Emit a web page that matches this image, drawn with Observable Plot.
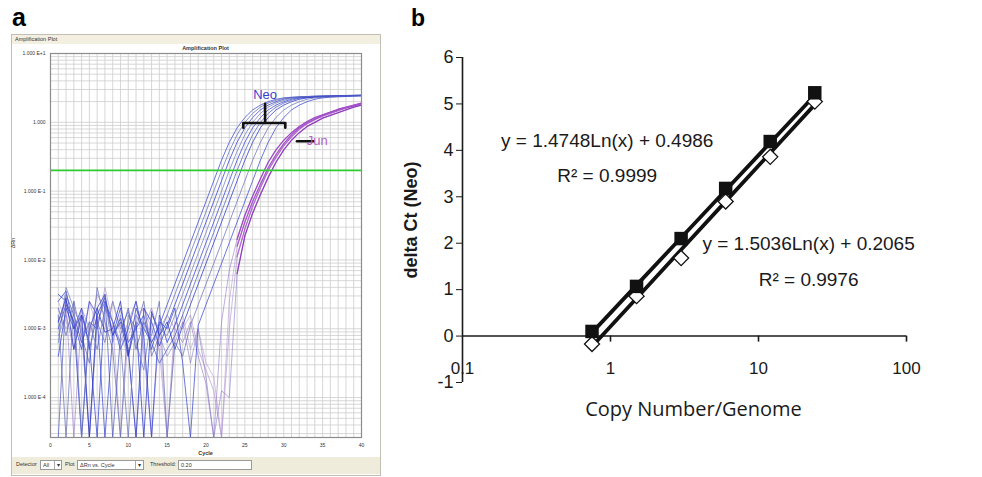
<!DOCTYPE html>
<html><head><meta charset="utf-8">
<script src="https://cdn.jsdelivr.net/npm/d3@7"></script>
<script src="https://cdn.jsdelivr.net/npm/@observablehq/plot@0.6"></script>
<style>
body{margin:0;background:#fff;width:982px;height:477px;position:relative;overflow:hidden;font-family:"Liberation Sans",Arial,sans-serif}
.abs{position:absolute}
.tiny{font-size:5.5px;color:#333;white-space:nowrap}
.box{position:absolute;border:1px solid #9a9a9a;background:#fff;height:8px;top:460px;font-size:5.5px;line-height:8px;padding-left:2px;color:#333;white-space:nowrap}
</style></head><body>
<div class="abs" style="left:12px;top:3px;font:bold 25px 'Liberation Sans'">a</div>
<div class="abs" style="left:411px;top:5px;font:bold 23px 'Liberation Sans'">b</div>
<div class="abs" style="left:11px;top:34px;width:368px;height:440px;border:1px solid #c2beb2;background:#fff"></div>
<div class="abs tiny" style="left:12px;top:35px;width:368px;height:9px;background:#f3f0e2;line-height:9px;padding-left:3px;box-sizing:border-box">Amplification Plot</div>
<div class="abs tiny" style="left:50px;top:45px;width:311px;text-align:center;font-weight:bold">Amplification Plot</div>
<div class="abs tiny" style="left:8px;top:240px;transform:rotate(-90deg)">ΔRn</div>
<div class="abs tiny" style="left:50px;top:450px;width:311px;text-align:center;font-weight:bold">Cycle</div>
<div class="abs" style="left:12px;top:457px;width:368px;height:17px;background:#efecdc"></div>
<div class="abs tiny" style="left:16px;top:461px">Detector</div>
<div class="box" style="left:40px;width:18px">All<span style="position:absolute;right:0;top:0;width:6px;border-left:1px solid #aaa;text-align:center">▾</span></div>
<div class="abs tiny" style="left:65px;top:461px">Plot</div>
<div class="box" style="left:77px;width:63px">ΔRn vs. Cycle<span style="position:absolute;right:0;top:0;width:7px;border-left:1px solid #aaa;text-align:center">▾</span></div>
<div class="abs tiny" style="left:150px;top:461px">Threshold:</div>
<div class="box" style="left:178px;width:70px">0.20</div>
<div id="plotA" class="abs" style="left:0;top:0"></div>
<div id="plotB" class="abs" style="left:400px;top:0"></div>
<script>
// ---------- Panel a: amplification curves (log10 ΔRn per cycle 1..40) ----------
const cyclesTicks = [0, 5, 10, 15, 20, 25, 30, 35, 40];
const yTickValuesA = [10, 1, 0.1, 0.01, 0.001, 0.0001];
const yTickLabelsA = ["1.000 E+1", "1.000", "1.000 E-1", "1.000 E-2", "1.000 E-3", "1.000 E-4"];
const threshold = [0.20];

const neo1 = [-2.6,-2.45,-3.0,-2.7,-3.3,-2.8,-2.55,-3.1,-2.9,-3.4,-2.7,-3.0,-3.2,
  -2.95,-2.65,-2.35,-2.05,-1.75,-1.45,-1.15,-0.85,-0.55,-0.29,-0.08,0.07,0.18,0.25,0.30,0.335,0.355,0.365,0.37,0.375,0.38,0.383,0.386,0.388,0.39,0.392,0.395];
const neo2 = [-2.8,-6,-2.6,-3.1,-3.5,-2.4,-2.9,-3.3,-6,-2.8,-3.0,-2.6,-3.4,
  -3.1,-2.8,-2.5,-2.2,-1.9,-1.6,-1.3,-1.0,-0.7,-0.42,-0.18,0.0,0.13,0.22,0.28,0.32,0.35,0.36,0.37,0.375,0.38,0.383,0.386,0.388,0.39,0.392,0.395];
const neo3 = [-2.5,-2.6,-2.9,-6,-3.0,-2.7,-2.5,-3.1,-2.85,-3.3,-6,-2.7,-2.9,-3.25,
  -2.95,-2.65,-2.35,-2.05,-1.75,-1.45,-1.15,-0.85,-0.55,-0.29,-0.08,0.07,0.18,0.25,0.30,0.335,0.355,0.365,0.37,0.375,0.38,0.383,0.386,0.388,0.39,0.392];
const neo4 = [-3.2,-2.4,-2.7,-3.0,-6,-2.9,-3.2,-2.6,-3.0,-2.75,-3.2,-3.6,-2.8,-3.0,
  -3.1,-2.8,-2.5,-2.2,-1.9,-1.6,-1.3,-1.0,-0.7,-0.42,-0.18,0.0,0.13,0.22,0.28,0.32,0.35,0.36,0.37,0.375,0.38,0.383,0.386,0.388,0.39,0.392];
const neo5 = [-3.4,-2.7,-3.0,-2.8,-3.2,-6,-2.6,-2.9,-3.3,-3.0,-2.6,-3.1,-6,-2.8,-3.2,
  -2.95,-2.65,-2.35,-2.05,-1.75,-1.45,-1.15,-0.85,-0.55,-0.29,-0.08,0.07,0.18,0.25,0.30,0.335,0.355,0.365,0.37,0.375,0.38,0.383,0.386,0.388,0.39];
const neo6 = [-6,-2.5,-2.8,-3.2,-2.9,-3.0,-2.5,-6,-3.1,-2.7,-3.3,-2.9,-3.2,-3.5,-3.3,
  -3.1,-2.8,-2.5,-2.2,-1.9,-1.6,-1.3,-1.0,-0.7,-0.42,-0.18,0.0,0.13,0.22,0.28,0.32,0.35,0.36,0.37,0.375,0.38,0.383,0.386,0.388,0.39];
const neo7 = [-2.9,-2.55,-3.3,-2.8,-6,-2.7,-3.05,-3.0,-2.6,-3.4,-2.9,-6,-2.75,-3.1,-2.9,-3.3,
  -2.95,-2.65,-2.35,-2.05,-1.75,-1.45,-1.15,-0.85,-0.55,-0.29,-0.08,0.07,0.18,0.25,0.30,0.335,0.355,0.365,0.37,0.375,0.38,0.383,0.386,0.388];
const neo8 = [-2.7,-3.1,-2.6,-6,-2.9,-3.3,-2.7,-2.9,-3.2,-6,-2.8,-3.0,-3.1,-2.6,-6,-3.2,-3.4,
  -2.95,-2.65,-2.35,-2.05,-1.75,-1.45,-1.15,-0.85,-0.55,-0.29,-0.08,0.07,0.18,0.25,0.30,0.335,0.355,0.365,0.37,0.375,0.38,0.383,0.386];
const neo9 = [-3.0,-2.65,-2.9,-3.3,-2.6,-2.8,-6,-3.1,-2.7,-3.2,-3.0,-2.8,-3.3,-2.9,-3.0,-2.7,-3.5,-6,
  -2.95,-2.65,-2.35,-2.05,-1.75,-1.45,-1.15,-0.85,-0.55,-0.29,-0.08,0.07,0.18,0.25,0.30,0.335,0.355,0.365,0.37,0.375,0.38,0.383];
const jun1 = [-2.9,-2.6,-6,-2.8,-3.1,-2.5,-2.7,-3.0,-3.2,-2.9,-2.6,-3.3,-6,-3.0,-2.8,-3.0,-3.2,-2.9,-3.4,-3.8,-6,
  -2.9,-2.15,-1.7,-1.35,-1.07,-0.82,-0.58,-0.4,-0.26,-0.15,-0.06,0.01,0.07,0.11,0.15,0.19,0.22,0.25,0.28];
const jun2 = [-2.7,-3.0,-2.8,-3.2,-2.6,-3.0,-2.4,-2.9,-6,-3.1,-2.8,-2.7,-3.0,-3.3,-6,-2.9,-3.0,-2.8,-3.3,-3.6,-3.9,-6,
  -3.0,-1.95,-1.55,-1.22,-0.95,-0.7,-0.51,-0.34,-0.21,-0.1,-0.02,0.04,0.09,0.13,0.17,0.21,0.24,0.27];
const jun3 = [-3.1,-2.8,-3.3,-2.7,-3.0,-2.9,-2.6,-3.2,-2.8,-3.3,-6,-3.0,-2.7,-3.1,-3.4,-3.2,-2.9,-3.5,-3.0,-3.7,-6,-3.9,
  -4.0,-2.2,-1.65,-1.32,-1.05,-0.8,-0.58,-0.4,-0.26,-0.15,-0.06,0.0,0.06,0.1,0.14,0.18,0.22,0.25];
const jun4 = [-2.6,-2.9,-3.1,-2.7,-6,-2.8,-3.0,-2.6,-3.1,-3.4,-2.9,-2.7,-3.2,-3.0,-6,-3.1,-2.8,-3.3,-3.0,-3.5,-3.7,
  -6,-2.6,-1.8,-1.45,-1.15,-0.9,-0.66,-0.47,-0.31,-0.18,-0.08,-0.01,0.05,0.1,0.14,0.18,0.21,0.24,0.27];

const neoCurves = [neo1, neo2, neo3, neo4, neo5, neo6, neo7, neo8, neo9];
const junCurves = [jun1, jun2, jun3, jun4];
const neoColors = ["#3a4ad0", "#6a72b4", "#2f3fcf", "#7a80b8", "#3646d8", "#5560c0", "#2a36c8", "#6d76bc", "#3f4cd2"];
const junColors = ["#9a3ec4", "#b066cc", "#8e30bd", "#a24ec8"];
const junNoiseColors = ["#8c6cc0", "#a484c8", "#7f70c4", "#b090cc"];

// annotation anchors (cycle, log10 ΔRn)
const bracketNeo = [[24.8,-0.08],[24.8,-0.01],[30.2,-0.01],[30.2,-0.08]];
const bracketStem = [[27.6,-0.01],[27.6,0.27]];
const junDash = [[31.7,-0.275],[33.8,-0.275]];
const annLabels = [{c:27.6, v:0.40, t:"Neo", color:"#3a3fd0", anchor:"middle"}, {c:34.3, v:-0.27, t:"Jun", color:"#b163c4", anchor:"start"}];

function toRows(curves, colors, group) {
  return curves.flatMap((arr, k) => arr.map((v, i) => ({cycle: i + 1, dRn: Math.pow(10, v), id: group + k, color: colors[k]})));
}
const neoRows = toRows(neoCurves, neoColors, "neo");
const junRows = toRows(junCurves, junColors, "jun");
const junNoiseRows = toRows(junCurves, junNoiseColors, "jn");
const gridYA = d3.range(-5, 1).flatMap(e => d3.range(1, 10).map(k => k * Math.pow(10, e))).filter(v => v >= Math.pow(10, -4.58) && v <= 10);
const pt = ([c, v]) => ({c, y: Math.pow(10, v)});

const plotA = Plot.plot({
  width: 390, height: 477,
  marginLeft: 50, marginRight: 29, marginTop: 53, marginBottom: 40,
  style: {background: "transparent", fontSize: "5px", fontFamily: "Liberation Sans", color: "#333"},
  x: {domain: [0, 40], ticks: cyclesTicks, tickSize: 0, tickPadding: 6, label: null},
  y: {type: "log", domain: [Math.pow(10, -4.58), 10], clamp: true, ticks: yTickValuesA,
      tickFormat: d => yTickLabelsA[yTickValuesA.findIndex(t => Math.abs(t - d) / t < 1e-6)] ?? "", tickSize: 0, tickPadding: 5, label: null},
  color: {type: "identity"},
  marks: [
    Plot.ruleX(d3.range(0, 41), {stroke: "#cdcdcd", strokeWidth: 0.8}),
    Plot.ruleY(gridYA, {stroke: "#cdcdcd", strokeWidth: 0.8}),
    Plot.line(junNoiseRows, {x: "cycle", y: "dRn", z: "id", stroke: "color", strokeWidth: 0.7, strokeOpacity: 0.8}),
    Plot.line(neoRows, {x: "cycle", y: "dRn", z: "id", stroke: "color", strokeWidth: 0.85, strokeOpacity: 0.9}),
    Plot.line(junRows.filter(d => d.cycle >= 24), {x: "cycle", y: "dRn", z: "id", stroke: "color", strokeWidth: 1.3, strokeOpacity: 0.9}),
    Plot.ruleY(threshold, {stroke: "#2fcc2f", strokeWidth: 1.8}),
    Plot.frame({stroke: "#8c8c8c", strokeWidth: 1.2}),
    Plot.line(bracketNeo.map(pt), {x: "c", y: "y", stroke: "#111", strokeWidth: 2.6}),
    Plot.line(bracketStem.map(pt), {x: "c", y: "y", stroke: "#111", strokeWidth: 2.6}),
    Plot.line(junDash.map(pt), {x: "c", y: "y", stroke: "#111", strokeWidth: 2.6}),
    Plot.text(annLabels, {x: "c", y: d => Math.pow(10, d.v), text: "t", fill: "color", textAnchor: "anchor", fontSize: 13, fontFamily: "Liberation Sans"})
  ]
});
document.getElementById("plotA").append(plotA);

// ---------- Panel b: delta Ct vs copy number ----------
const copyNumber = [0.75, 1.5, 3, 6, 12, 24];
const neoDeltaCt = [0.1, 1.07, 2.1, 3.18, 4.19, 5.24];
const junDeltaCt = [-0.17, 0.86, 1.68, 2.9, 3.86, 5.05];
const fitSlopes = [1.4748, 1.5036];
const fitIntercepts = [0.4986, 0.2065];
const eqText = ["y = 1.4748Ln(x) + 0.4986", "R² = 0.9999", "y = 1.5036Ln(x) + 0.2065", "R² = 0.9976"];
const eqX = [0.95, 0.95, 21.8, 21.8];
const eqY = [4.2, 3.46, 1.99, 1.22];
const xTicksB = [0.1, 1, 10, 100];
const xTickLabelsB = ["0.1", "1", "10", "100"];
const yTicksB = [-1, 0, 1, 2, 3, 4, 5, 6];

const neoPts = copyNumber.map((x, i) => ({x, y: neoDeltaCt[i]}));
const junPts = copyNumber.map((x, i) => ({x, y: junDeltaCt[i]}));
const fitLine = k => copyNumber.map(x => ({x, y: fitSlopes[k] * Math.log(x) + fitIntercepts[k]}));

const plotB = Plot.plot({
  width: 582, height: 477,
  marginLeft: 62, marginRight: 76, marginTop: 57, marginBottom: 95,
  style: {background: "transparent", fontSize: "18px", fontFamily: "Liberation Sans", color: "#1a1a1a"},
  x: {type: "log", domain: [0.1, 100], axis: null},
  y: {domain: [-1, 6], ticks: yTicksB, tickFormat: d => String(d), tickSize: 6, tickPadding: 3, label: null},
  marks: [
    Plot.ruleX([0.1], {y1: -1, y2: 6, stroke: "#1a1a1a", strokeWidth: 1.6}),
    Plot.ruleY([0], {x1: 0.1, x2: 100, stroke: "#1a1a1a", strokeWidth: 1.6}),
    Plot.ruleX(xTicksB.slice(1), {y1: 0, y2: -0.13, stroke: "#1a1a1a", strokeWidth: 1.6}),
    Plot.text(xTicksB, {x: d => d, y: 0, dy: 32, text: (d, i) => xTickLabelsB[i], fontSize: 17}),
    Plot.line(fitLine(0), {x: "x", y: "y", stroke: "#111", strokeWidth: 3.8}),
    Plot.line(fitLine(1), {x: "x", y: "y", stroke: "#111", strokeWidth: 3.8}),
    Plot.dot(junPts, {x: "x", y: "y", symbol: "diamond2", r: 6.8, fill: "white", stroke: "#111", strokeWidth: 1.3}),
    Plot.dot(neoPts, {x: "x", y: "y", symbol: "square", r: 7.6, fill: "#111"}),
    Plot.text(eqText, {x: (d, i) => eqX[i], y: (d, i) => eqY[i], text: d => d, fontSize: 19}),
    Plot.text(["delta Ct (Neo)"], {frameAnchor: "left", textAnchor: "middle", dx: -51, rotate: -90, fontWeight: "bold", fontSize: 18}),
    Plot.text(["Copy Number/Genome"], {frameAnchor: "bottom", dx: 9, dy: 33, fontSize: 20, fontFamily: "Open Sans"})
  ]
});
document.getElementById("plotB").append(plotB);
</script>
</body></html>
